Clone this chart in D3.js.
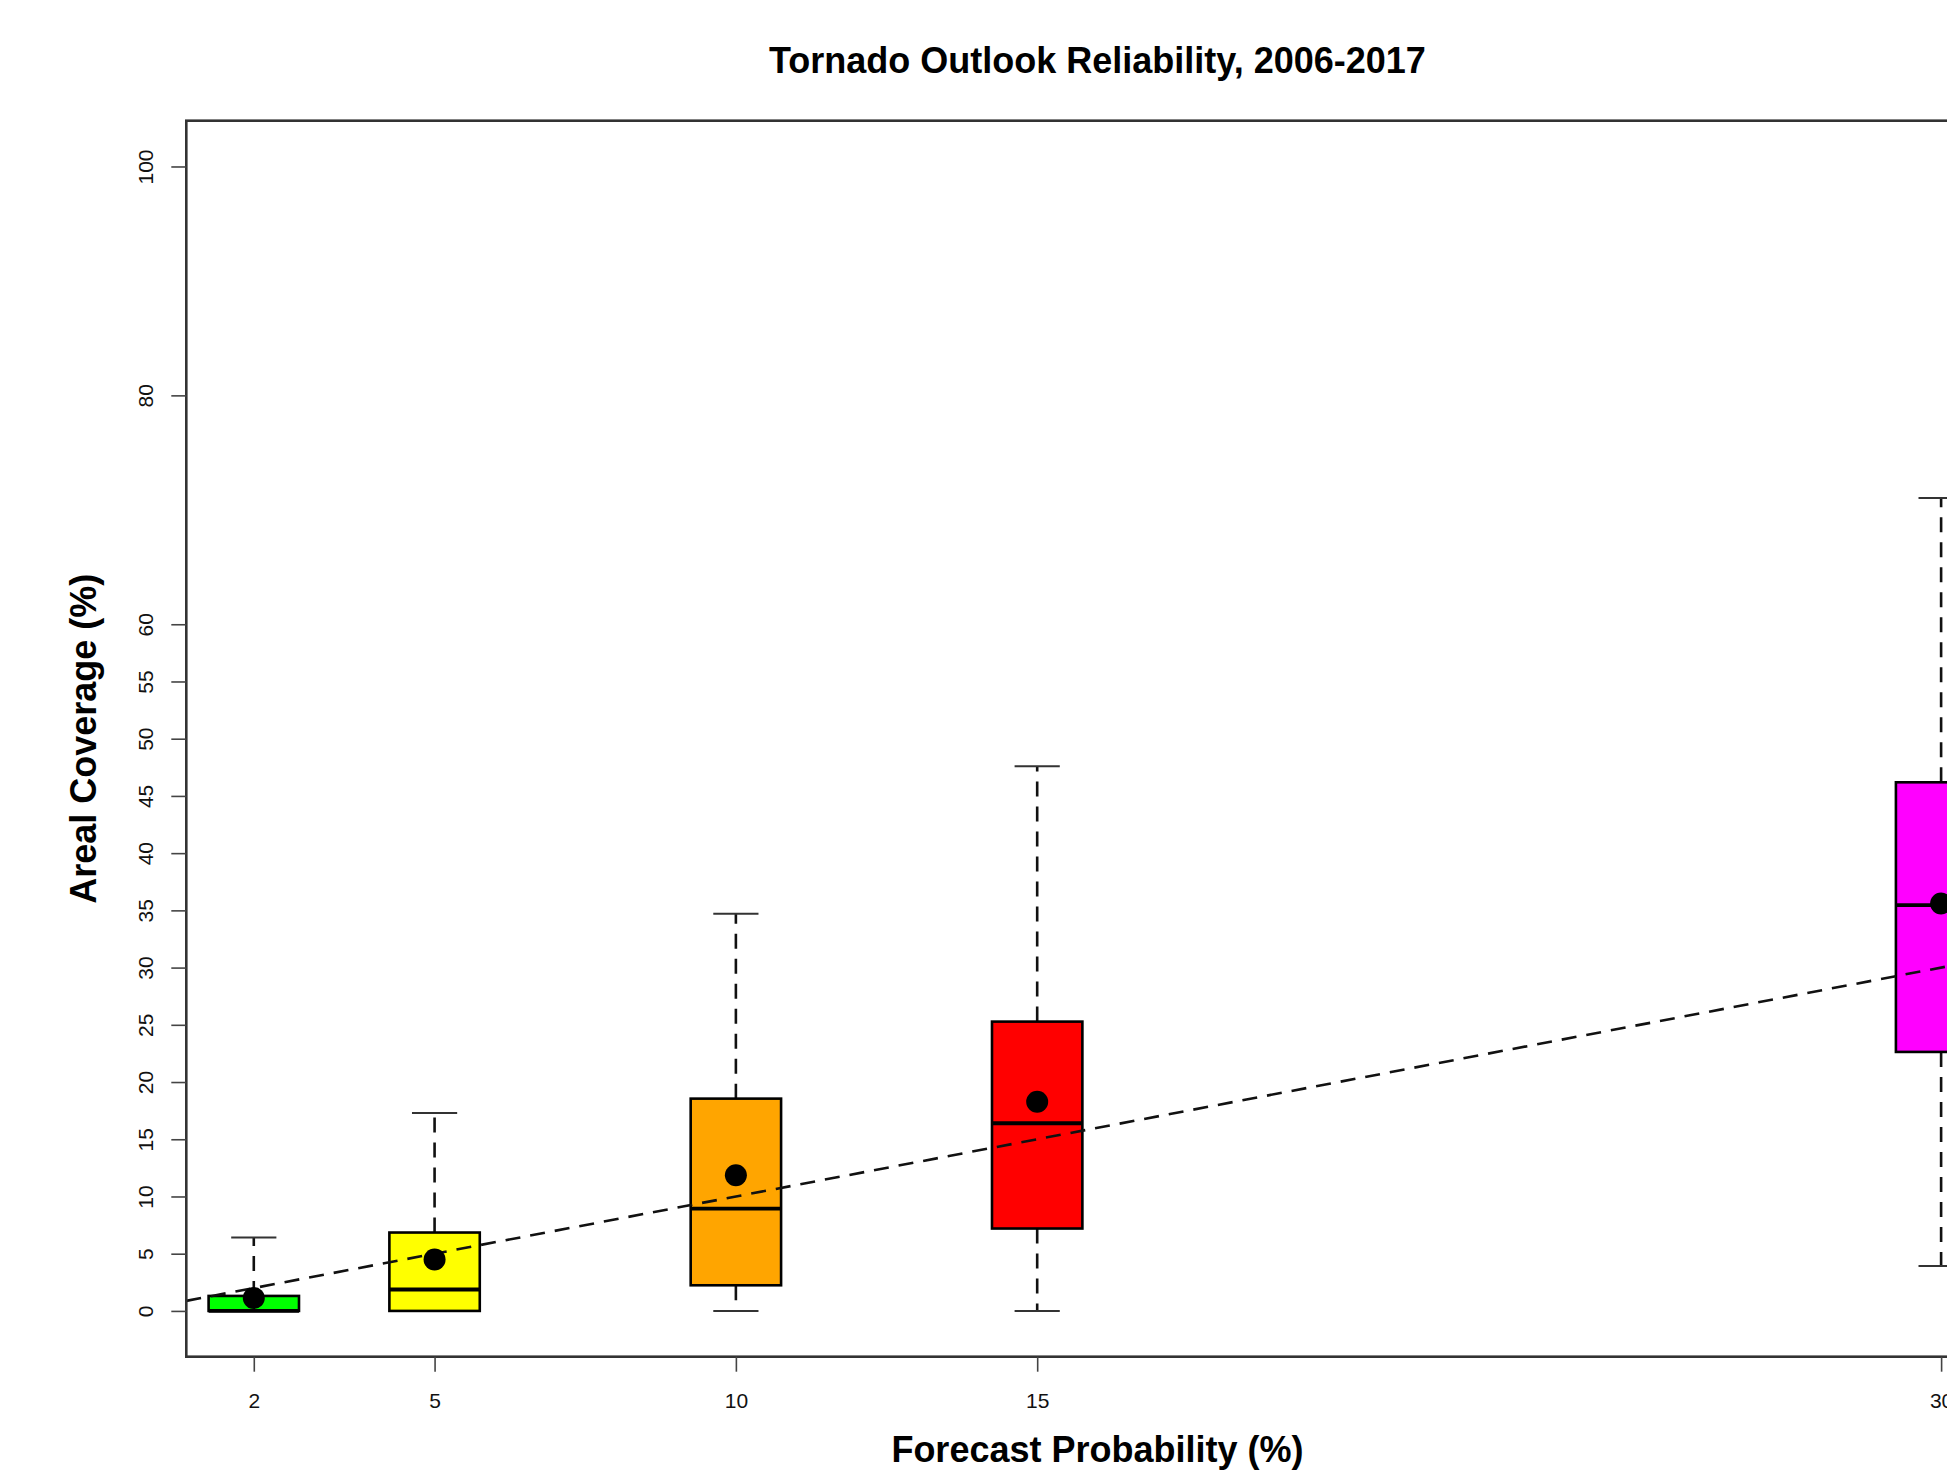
<!DOCTYPE html>
<html>
<head>
<meta charset="utf-8">
<script src="https://cdn.jsdelivr.net/npm/d3@7"></script>
<style>
  html, body { margin: 0; padding: 0; background: #fff; overflow: hidden; }
  svg { display: block; font-family: "Liberation Sans", Arial, Helvetica, sans-serif; }
</style>
</head>
<body>
<svg id="chart" width="1947" height="1471"></svg>
<script>
// Outlook probability categories (%) and box colours
const categories = [2, 5, 10, 15, 30];
const boxColors = ["#00ff00", "#ffff00", "#ffa500", "#ff0000", "#ff00ff"];

// Box-and-whisker summaries of areal coverage (%)
const whiskerLow  = [0, 0, 0, 0, 3.93];
const q1          = [0, 0, 2.24, 7.2, 22.63];
const medians     = [0, 1.87, 8.94, 16.4, 35.46];
const q3          = [1.31, 6.85, 18.55, 25.28, 46.19];
const whiskerHigh = [6.41, 17.3, 34.7, 47.6, 71.04];
const means       = [1.13, 4.49, 11.85, 18.28, 35.6];

// Axis ticks
const xTicks = [2, 5, 10, 15, 30];
const yTicks = [0, 5, 10, 15, 20, 25, 30, 35, 40, 45, 50, 55, 60, 80, 100];

const titleText = "Tornado Outlook Reliability, 2006-2017";
const xLabel = "Forecast Probability (%)";
const yLabel = "Areal Coverage (%)";

// Plot region (the frame runs past the right edge of the page)
const plot = { left: 186.3, right: 2008.6, top: 120.7, bottom: 1356.7 };
const boxWidth = 1.5;      // in x units
const capWidth = 0.75;     // in x units

const x = d3.scaleLinear().domain([0.88, 31.12]).range([plot.left, plot.right]);
const y = d3.scaleLinear().domain([-4, 104]).range([plot.bottom, plot.top]);

const svg = d3.select("#chart");

svg.append("defs").append("clipPath").attr("id", "plotClip")
  .append("rect")
  .attr("x", plot.left).attr("y", plot.top)
  .attr("width", plot.right - plot.left).attr("height", plot.bottom - plot.top);

const rows = categories.map((c, i) => ({
  cat: c, color: boxColors[i],
  lo: whiskerLow[i], q1: q1[i], med: medians[i], q3: q3[i], hi: whiskerHigh[i], mean: means[i]
}));

const dash = "15,10";
const g = svg.append("g").attr("clip-path", "url(#plotClip)");

// Whiskers
const boxes = g.selectAll("g.box").data(rows).join("g").attr("class", "box");
boxes.append("line")
  .attr("x1", d => x(d.cat)).attr("x2", d => x(d.cat))
  .attr("y1", d => y(d.q3)).attr("y2", d => y(d.hi))
  .attr("stroke", "#111").attr("stroke-width", 2.6).attr("stroke-dasharray", dash);
boxes.append("line")
  .attr("x1", d => x(d.cat)).attr("x2", d => x(d.cat))
  .attr("y1", d => y(d.q1)).attr("y2", d => y(d.lo))
  .attr("stroke", "#111").attr("stroke-width", 2.6).attr("stroke-dasharray", dash);
// Caps
boxes.append("line")
  .attr("x1", d => x(d.cat - capWidth / 2)).attr("x2", d => x(d.cat + capWidth / 2))
  .attr("y1", d => y(d.hi)).attr("y2", d => y(d.hi))
  .attr("stroke", "#333").attr("stroke-width", 2);
boxes.append("line")
  .attr("x1", d => x(d.cat - capWidth / 2)).attr("x2", d => x(d.cat + capWidth / 2))
  .attr("y1", d => y(d.lo)).attr("y2", d => y(d.lo))
  .attr("stroke", "#333").attr("stroke-width", 2);
// Boxes
boxes.append("rect")
  .attr("x", d => x(d.cat - boxWidth / 2))
  .attr("width", d => x(d.cat + boxWidth / 2) - x(d.cat - boxWidth / 2))
  .attr("y", d => y(d.q3))
  .attr("height", d => y(d.q1) - y(d.q3))
  .attr("fill", d => d.color)
  .attr("stroke", "#000").attr("stroke-width", 2.6);
// Medians
boxes.append("line")
  .attr("x1", d => x(d.cat - boxWidth / 2)).attr("x2", d => x(d.cat + boxWidth / 2))
  .attr("y1", d => y(d.med)).attr("y2", d => y(d.med))
  .attr("stroke", "#000").attr("stroke-width", 3.8);

// Perfect-reliability diagonal
g.append("line")
  .attr("x1", x(0.88)).attr("y1", y(0.88))
  .attr("x2", x(31.12)).attr("y2", y(31.12))
  .attr("stroke", "#111").attr("stroke-width", 2.6).attr("stroke-dasharray", dash);

// Means
g.selectAll("circle.mean").data(rows).join("circle").attr("class", "mean")
  .attr("cx", d => x(d.cat)).attr("cy", d => y(d.mean))
  .attr("r", 11).attr("fill", "#000");

// Frame
svg.append("rect")
  .attr("x", plot.left).attr("y", plot.top)
  .attr("width", plot.right - plot.left).attr("height", plot.bottom - plot.top)
  .attr("fill", "none").attr("stroke", "#333").attr("stroke-width", 2.6);

// Axes
const xAxis = svg.append("g")
  .attr("transform", `translate(0,${plot.bottom})`)
  .call(d3.axisBottom(x).tickValues(xTicks).tickSize(15).tickSizeOuter(0).tickFormat(d3.format("d")));
xAxis.select(".domain").remove();
xAxis.selectAll(".tick line").attr("stroke", "#444").attr("stroke-width", 1.6);
xAxis.selectAll(".tick text")
  .attr("y", 51.6).attr("dy", 0)
  .attr("font-size", 21).attr("fill", "#111")
  .attr("font-family", "'Liberation Sans', Arial, sans-serif");

const yAxis = svg.append("g")
  .attr("transform", `translate(${plot.left},0)`)
  .call(d3.axisLeft(y).tickValues(yTicks).tickSize(15).tickSizeOuter(0).tickFormat(d3.format("d")));
yAxis.select(".domain").remove();
yAxis.selectAll(".tick line").attr("stroke", "#444").attr("stroke-width", 1.6);
yAxis.selectAll(".tick text")
  .attr("transform", "rotate(-90)")
  .attr("x", 0).attr("y", -33.3).attr("dy", 0)
  .attr("text-anchor", "middle")
  .attr("font-size", 21).attr("fill", "#111")
  .attr("font-family", "'Liberation Sans', Arial, sans-serif");

// Titles
svg.append("text")
  .attr("x", (plot.left + plot.right) / 2).attr("y", 73)
  .attr("text-anchor", "middle").attr("font-size", 36).attr("font-weight", "bold")
  .attr("fill", "#000").text(titleText);

svg.append("text")
  .attr("x", (plot.left + plot.right) / 2).attr("y", 1462)
  .attr("text-anchor", "middle").attr("font-size", 36).attr("font-weight", "bold")
  .attr("fill", "#000").text(xLabel);

svg.append("text")
  .attr("transform", `translate(96,${(plot.top + plot.bottom) / 2}) rotate(-90)`)
  .attr("text-anchor", "middle").attr("font-size", 36).attr("font-weight", "bold")
  .attr("fill", "#000").text(yLabel);
</script>
</body>
</html>
